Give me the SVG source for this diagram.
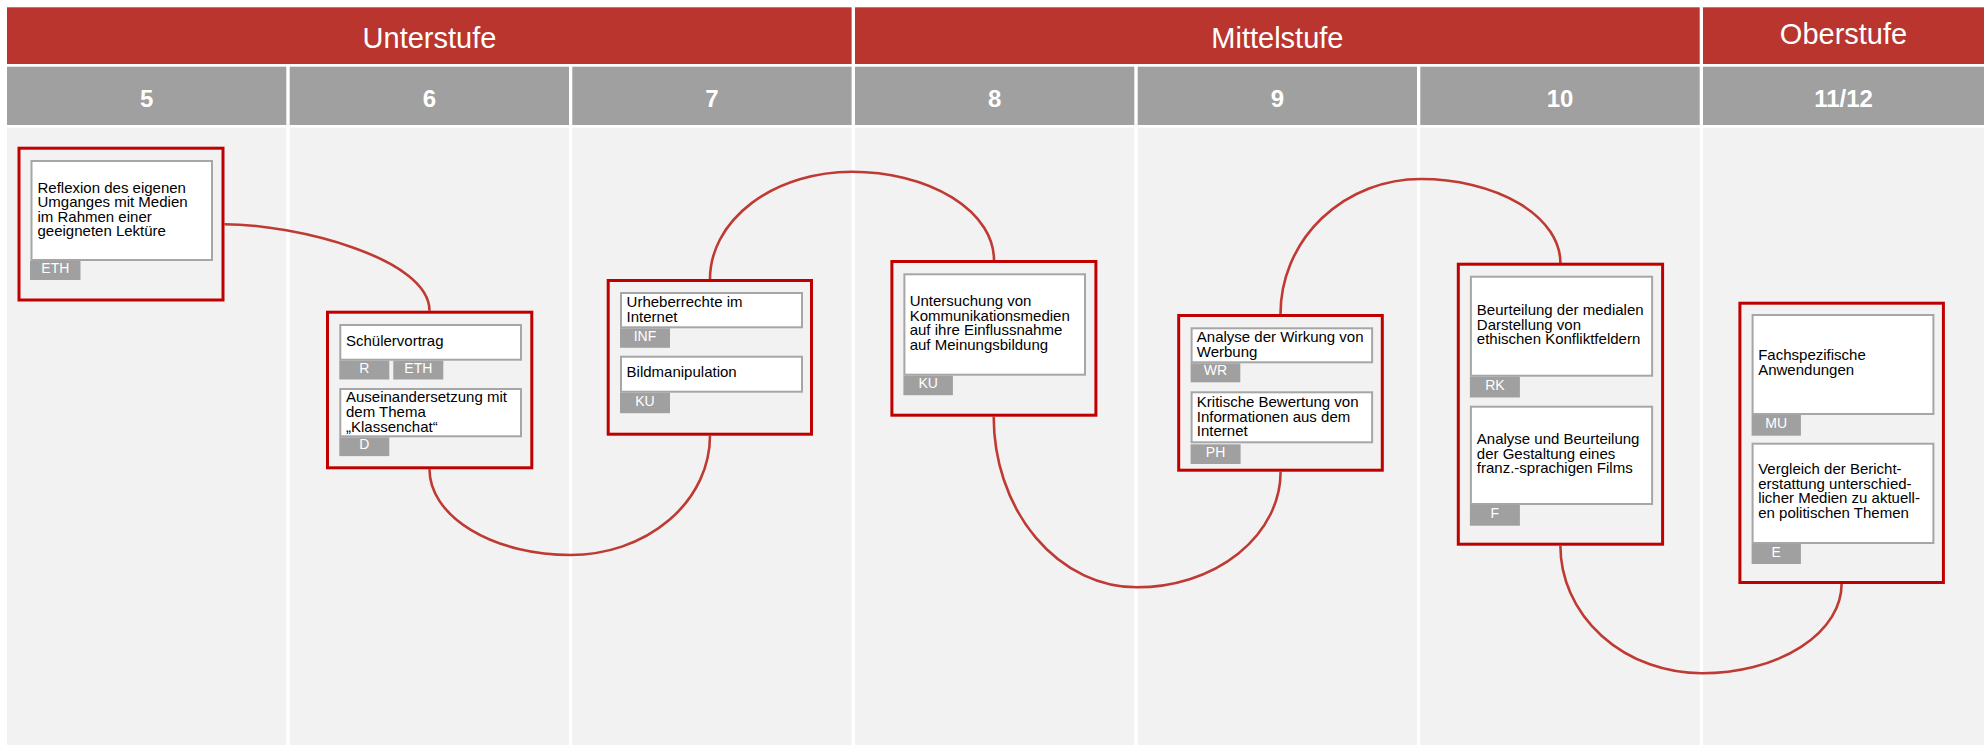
<svg xmlns="http://www.w3.org/2000/svg" width="1984" height="745" viewBox="0 0 1984 745">
<style>
text{font-family:"Liberation Sans",Arial,Helvetica,sans-serif}
.band{fill:#b9352d}
.title{fill:#fff;font-size:29px;text-anchor:middle}
.ghead{fill:#a0a0a0}
.num{fill:#fff;font-size:24px;font-weight:bold;text-anchor:middle}
.col{fill:#f2f2f2}
.box{fill:#f2f2f2;stroke:#c00000;stroke-width:3}
.card{fill:#fff;stroke:#a6a6a6;stroke-width:2}
.tag{fill:#a0a0a0}
.tt{fill:#fff;font-size:14px;text-anchor:middle}
.t{fill:#000;font-size:15px}
.conn{fill:none;stroke:#bf3a33;stroke-width:2.6}
</style>
<rect x="0" y="0" width="1984" height="745" fill="#fff"/>
<g id="header">
<rect class="band" x="7" y="7.3" width="844.6" height="56.7"/>
<rect class="band" x="855" y="7.3" width="844.7" height="56.7"/>
<rect class="band" x="1703" y="7.3" width="281" height="56.7"/>
<text class="title" x="429.5" y="48.3">Unterstufe</text>
<text class="title" x="1277.4" y="48.3">Mittelstufe</text>
<text class="title" x="1843.5" y="44">Oberstufe</text>
<rect class="ghead" x="7" y="66.7" width="279.3" height="58.3"/>
<rect class="ghead" x="289.7" y="66.7" width="279.3" height="58.3"/>
<rect class="ghead" x="572.3" y="66.7" width="279.3" height="58.3"/>
<rect class="ghead" x="855" y="66.7" width="279.3" height="58.3"/>
<rect class="ghead" x="1137.7" y="66.7" width="279.3" height="58.3"/>
<rect class="ghead" x="1420.3" y="66.7" width="279.4" height="58.3"/>
<rect class="ghead" x="1703" y="66.7" width="281" height="58.3"/>
<text class="num" x="146.7" y="106.7">5</text>
<text class="num" x="429.4" y="106.7">6</text>
<text class="num" x="712" y="106.7">7</text>
<text class="num" x="994.7" y="106.7">8</text>
<text class="num" x="1277.4" y="106.7">9</text>
<text class="num" x="1560" y="106.7">10</text>
<text class="num" x="1843.5" y="106.7">11/12</text>
<rect class="col" x="7" y="127.7" width="279.3" height="617.3"/>
<rect class="col" x="289.7" y="127.7" width="279.3" height="617.3"/>
<rect class="col" x="572.3" y="127.7" width="279.3" height="617.3"/>
<rect class="col" x="855" y="127.7" width="279.3" height="617.3"/>
<rect class="col" x="1137.7" y="127.7" width="279.3" height="617.3"/>
<rect class="col" x="1420.3" y="127.7" width="279.4" height="617.3"/>
<rect class="col" x="1703" y="127.7" width="281" height="617.3"/>
</g>
<g id="connectors">
<path class="conn" d="M224.5,224.2 C295,224.2 429.5,258 429.5,310.7"/>
<path class="conn" d="M429.5,469.3 A141,85.7 0 0 0 570.5,555 A139.5,119.3 0 0 0 710,435.7"/>
<path class="conn" d="M710,279 A142,107.3 0 0 1 852,171.7 A142,88.3 0 0 1 994,260"/>
<path class="conn" d="M993.7,416.7 A143,170.6 0 0 0 1136.7,587.3 A143.9,115.6 0 0 0 1280.6,471.7"/>
<path class="conn" d="M1280.5,314 A140.1,135 0 0 1 1420.6,179 A139.8,84 0 0 1 1560.4,263"/>
<path class="conn" d="M1560.4,545.7 A141.6,127.6 0 0 0 1702,673.3 A139.6,89.3 0 0 0 1841.6,584"/>
</g>
<g id="n1">
<rect class="box" x="19" y="148.2" width="204" height="151.8"/>
<rect class="card" x="31.5" y="161" width="180.5" height="99"/>
<rect class="tag" x="30" y="261" width="50.5" height="19"/>
<text class="tt" x="55.3" y="273">ETH</text>
<text class="t" x="37.5" y="192.5">Reflexion des eigenen</text>
<text class="t" x="37.5" y="207">Umganges mit Medien</text>
<text class="t" x="37.5" y="221.5">im Rahmen einer</text>
<text class="t" x="37.5" y="236">geeigneten Lektüre</text>
</g>
<g id="n2">
<rect class="box" x="327.5" y="312.2" width="204.3" height="155.6"/>
<rect class="card" x="340.3" y="325" width="180.7" height="34.7"/>
<rect class="tag" x="339.3" y="360.7" width="50" height="18.8"/>
<text class="tt" x="364.3" y="372.7">R</text>
<rect class="tag" x="393.3" y="360.7" width="50" height="18.8"/>
<text class="tt" x="418.3" y="372.7">ETH</text>
<text class="t" x="346" y="346">Schülervortrag</text>
<rect class="card" x="340.3" y="389" width="180.7" height="47.3"/>
<rect class="tag" x="339.3" y="437.3" width="50" height="18.8"/>
<text class="tt" x="364.3" y="449.3">D</text>
<text class="t" x="346" y="401.7">Auseinandersetzung mit</text>
<text class="t" x="346" y="416.7">dem Thema</text>
<text class="t" x="346" y="431.5">„Klassenchat“</text>
</g>
<g id="n3">
<rect class="box" x="608.2" y="280.5" width="203.3" height="153.7"/>
<rect class="card" x="621" y="293" width="181" height="34.3"/>
<rect class="tag" x="620" y="328.3" width="50" height="19.5"/>
<text class="tt" x="645" y="340.5">INF</text>
<text class="t" x="626.6" y="306.7">Urheberrechte im</text>
<text class="t" x="626.6" y="321.5">Internet</text>
<rect class="card" x="621" y="356.7" width="181" height="35"/>
<rect class="tag" x="620" y="392.7" width="50" height="20.5"/>
<text class="tt" x="645" y="405.5">KU</text>
<text class="t" x="626.6" y="377.3">Bildmanipulation</text>
</g>
<g id="n4">
<rect class="box" x="891.9" y="261.5" width="204" height="153.7"/>
<rect class="card" x="904.4" y="274.3" width="180.6" height="100.4"/>
<rect class="tag" x="903.4" y="375.7" width="49.5" height="19.5"/>
<text class="tt" x="928.2" y="387.7">KU</text>
<text class="t" x="909.7" y="306">Untersuchung von</text>
<text class="t" x="909.7" y="320.5">Kommunikationsmedien</text>
<text class="t" x="909.7" y="335">auf ihre Einflussnahme</text>
<text class="t" x="909.7" y="349.5">auf Meinungsbildung</text>
</g>
<g id="n5">
<rect class="box" x="1178.7" y="315.5" width="203.6" height="154.7"/>
<rect class="card" x="1191.6" y="328.3" width="180.5" height="34"/>
<rect class="tag" x="1190.6" y="363.3" width="49.7" height="19"/>
<text class="tt" x="1215.4" y="375.3">WR</text>
<text class="t" x="1196.8" y="341.7">Analyse der Wirkung von</text>
<text class="t" x="1196.8" y="356.5">Werbung</text>
<rect class="card" x="1191.6" y="392.3" width="180.5" height="50"/>
<rect class="tag" x="1190.6" y="444.3" width="50" height="19.7"/>
<text class="tt" x="1215.6" y="456.5">PH</text>
<text class="t" x="1196.8" y="406.7">Kritische Bewertung von</text>
<text class="t" x="1196.8" y="421.5">Informationen aus dem</text>
<text class="t" x="1196.8" y="436">Internet</text>
</g>
<g id="n6">
<rect class="box" x="1458.3" y="264.2" width="204.3" height="280"/>
<rect class="card" x="1470.9" y="276.7" width="181.2" height="99"/>
<rect class="tag" x="1469.9" y="376.7" width="50" height="20.8"/>
<text class="tt" x="1494.9" y="389.5">RK</text>
<text class="t" x="1476.8" y="315">Beurteilung der medialen</text>
<text class="t" x="1476.8" y="329.7">Darstellung von</text>
<text class="t" x="1476.8" y="344.4">ethischen Konfliktfeldern</text>
<rect class="card" x="1470.9" y="406.7" width="181.2" height="97.3"/>
<rect class="tag" x="1469.9" y="505" width="50" height="20.7"/>
<text class="tt" x="1494.9" y="517.8">F</text>
<text class="t" x="1476.8" y="444.3">Analyse und Beurteilung</text>
<text class="t" x="1476.8" y="458.8">der Gestaltung eines</text>
<text class="t" x="1476.8" y="473.3">franz.-sprachigen Films</text>
</g>
<g id="n7">
<rect class="box" x="1739.9" y="303.2" width="203.5" height="279.3"/>
<rect class="card" x="1752.6" y="315" width="180.8" height="99"/>
<rect class="tag" x="1751.6" y="415" width="49.3" height="20.7"/>
<text class="tt" x="1776.2" y="427.8">MU</text>
<text class="t" x="1758.2" y="360">Fachspezifische</text>
<text class="t" x="1758.2" y="374.7">Anwendungen</text>
<rect class="card" x="1752.6" y="443.7" width="180.8" height="99.3"/>
<rect class="tag" x="1751.6" y="544" width="49.3" height="20"/>
<text class="tt" x="1776.2" y="556.5">E</text>
<text class="t" x="1758.2" y="474">Vergleich der Bericht-</text>
<text class="t" x="1758.2" y="488.6">erstattung unterschied-</text>
<text class="t" x="1758.2" y="503.2">licher Medien zu aktuell-</text>
<text class="t" x="1758.2" y="517.6">en politischen Themen</text>
</g>
</svg>
